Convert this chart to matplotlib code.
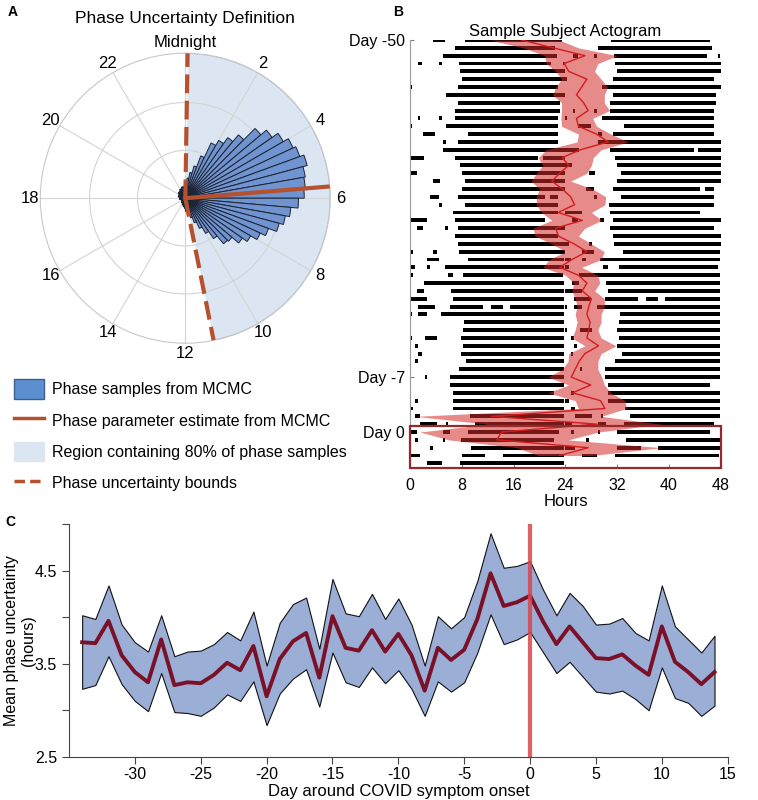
import numpy as np
import matplotlib
matplotlib.use("Agg")
import matplotlib.pyplot as plt
from matplotlib.patches import Patch, Rectangle
from matplotlib.lines import Line2D

plt.rcParams['font.family'] = ['Liberation Sans', 'DejaVu Sans']
plt.rcParams['axes.unicode_minus'] = False

# ---------------- panel A data: polar histogram of phase samples (5 deg bins, from midnight)
hist_r = [0.10, 0.14, 0.18, 0.23, 0.31, 0.42, 0.46, 0.51, 0.57, 0.68, 0.73, 0.78,
          0.82, 0.84, 0.87, 0.84, 0.83, 0.82, 0.78, 0.73, 0.70, 0.67, 0.61, 0.57,
          0.52, 0.48, 0.42, 0.41, 0.34, 0.28, 0.23, 0.18, 0.14, 0.12, 0.10, 0.09,
          0.07, 0.06, 0.06, 0.05, 0.05, 0.04, 0.04, 0.04, 0.04, 0.03, 0.03, 0.03,
          0.03, 0.03, 0.03, 0.04, 0.04, 0.04, 0.04, 0.04, 0.05, 0.05, 0.05, 0.05,
          0.05, 0.06, 0.06, 0.06, 0.06, 0.07, 0.07, 0.07, 0.08, 0.08, 0.08, 0.09]
phase_est = 5.69      # hours
bound_lo = 0.06       # hours
bound_hi = 11.25      # hours
clock_labels = ['Midnight', '2', '4', '6', '8', '10', '12', '14', '16', '18', '20', '22']
legend_labels = ['Phase samples from MCMC', 'Phase parameter estimate from MCMC',
                 'Region containing 80% of phase samples', 'Phase uncertainty bounds']

# ---------------- panel B data: activity per day (hours of day), days -50..5
act_days = list(range(-50, 6))
act_segments = [
    [(3.6, 5.4), (8.5, 23.5)],
    [(7.0, 22.4)],
    [(5.1, 22.7)],
    [(1.2, 1.9), (4.4, 4.9), (7.5, 21.8), (23.6, 23.9)],
    [(7.7, 24)],
    [(8.0, 24)],
    [(0, 0.3), (7.4, 22.9)],
    [(5.6, 24)],
    [(7.4, 23.2)],
    [(6.9, 23.2)],
    [(1.2, 1.5), (4.4, 4.9), (6.9, 22.9)],
    [(0, 0.3), (5.6, 22.9)],
    [(2.0, 3.9), (9.0, 22.9)],
    [(5.1, 5.6), (7.4, 22.9)],
    [(5.1, 24)],
    [(0, 2.1), (6.9, 19.8), (20.5, 24)],
    [(7.7, 24)],
    [(0, 1.0), (8.0, 24)],
    [(3.6, 4.6), (8.5, 24)],
    [(8.0, 24)],
    [(3.1, 4.4), (7.4, 20.8), (21.6, 22.9)],
    [(4.4, 4.9), (8.5, 22.9)],
    [(6.7, 22.9)],
    [(0, 2.6), (6.9, 20.8)],
    [(1.0, 2.0), (5.4, 5.9), (7.4, 24)],
    [(6.9, 22.9)],
    [(7.4, 24)],
    [(0, 0.5), (3.6, 4.1), (7.5, 24)],
    [(2.6, 4.4), (8.9, 23.8)],
    [(0, 0.8), (2.6, 3.1), (5.4, 23.8)],
    [(0, 0.5), (5.8, 6.6), (8.2, 23.6)],
    [(2.1, 23.8)],
    [(1.0, 2.1), (6.3, 23.8)],
    [(0, 2.6), (6.6, 23.8)],
    [(1.3, 3.9), (6.1, 11.2), (12.5, 14.3), (15.4, 23.8)],
    [(0, 0.3), (1.3, 2.6), (4.8, 23.8)],
    [(8.4, 23.8)],
    [(8.2, 23.8)],
    [(0, 0.3), (2.3, 4.1), (7.9, 23.8)],
    [(0.8, 1.3), (8.2, 23.8)],
    [(1.3, 1.8), (7.9, 23.8)],
    [(0.8, 1.2), (8.7, 23.8)],
    [(7.6, 23.8)],
    [(2.3, 2.6), (6.1, 23.8)],
    [(6.1, 23.8)],
    [(6.6, 22.3)],
    [(0.8, 1.3), (6.6, 23.8)],
    [(0, 0.5), (6.6, 23.8)],
    [(0.8, 1.5), (9.2, 23.8)],
    [(1.5, 4.1), (5.5, 5.8), (10.0, 23.8)],
    [(0, 1.0), (5.1, 6.2), (9.0, 23.0)],
    [(0.8, 1.3), (5.1, 5.4), (7.9, 22.3)],
    [(3.1, 3.6), (9.4, 23.8)],
    [(0, 1.5), (8.0, 11.6), (14.3, 23.8)],
    [(2.6, 4.9), (7.7, 23.7)],
    [],
]
act_rows = list(range(-50, 5))

# phase estimate per actogram row (hours on 0-48 axis) with uncertainty band
phase_rows = list(range(-50, 4))
phase_mid = [17.2, 22.1, 27.0, 23.8, 24.5, 27.3, 26.5, 25.7, 26.8, 27.5, 25.7, 26.0,
             28.8, 30.6, 26.3, 23.5, 24.5, 23.1, 21.9, 23.5, 24.8, 25.4, 22.9, 26.6,
             22.5, 22.9, 25.3, 27.3, 25.0, 23.1, 26.0, 27.3, 26.6, 28.0, 27.6, 27.3,
             27.8, 27.6, 27.3, 29.1, 27.0, 26.1, 25.5, 24.9, 27.9, 25.1, 29.4, 30.1,
             12.6, 28.9, 14.1, 13.4, 27.5, 23.1]
phase_lo = [12.3, 17.5, 20.8, 21.0, 22.5, 23.4, 22.5, 22.0, 23.4, 23.4, 23.3, 23.4,
            26.0, 25.8, 21.0, 19.8, 20.5, 19.5, 18.7, 20.0, 19.5, 19.5, 20.3, 21.9,
            19.0, 19.3, 21.9, 24.0, 21.5, 20.5, 24.0, 25.3, 25.0, 25.5, 25.8, 25.5,
            25.8, 25.5, 25.0, 27.0, 24.5, 24.4, 23.5, 21.3, 24.5, 21.3, 25.5, 26.0,
            0.8, 12.0, 1.5, 6.0, 16.5, 19.8]
phase_hi = [23.0, 26.0, 32.0, 29.0, 28.5, 29.5, 30.5, 30.0, 30.0, 30.8, 28.2, 28.8,
            31.0, 33.7, 29.5, 28.3, 28.0, 27.3, 24.8, 28.2, 30.2, 30.1, 28.0, 29.6,
            27.0, 26.0, 28.0, 30.0, 29.5, 26.5, 29.0, 29.3, 28.5, 30.0, 30.0, 29.5,
            29.5, 29.0, 29.5, 31.8, 29.5, 29.0, 29.0, 29.6, 30.0, 31.0, 33.2, 33.4,
            29.5, 38.8, 29.1, 24.4, 38.8, 28.0]

# ---------------- panel C data
days = list(range(-34, 15))
unc_mean = [3.73, 3.72, 3.96, 3.59, 3.41, 3.30, 3.76, 3.27, 3.30, 3.29, 3.38, 3.51,
            3.43, 3.69, 3.15, 3.55, 3.74, 3.83, 3.35, 4.01, 3.67, 3.64, 3.86, 3.63,
            3.82, 3.59, 3.21, 3.67, 3.54, 3.65, 3.98, 4.47, 4.12, 4.16, 4.23, 3.95,
            3.71, 3.90, 3.73, 3.56, 3.55, 3.60, 3.48, 3.38, 3.90, 3.52, 3.41, 3.28, 3.41]
unc_hi = [4.02, 3.98, 4.34, 3.92, 3.73, 3.63, 4.02, 3.58, 3.63, 3.64, 3.71, 3.84,
          3.75, 4.06, 3.48, 3.94, 4.14, 4.21, 3.66, 4.41, 4.04, 4.01, 4.25, 3.98,
          4.20, 3.92, 3.48, 4.01, 3.88, 4.00, 4.39, 4.90, 4.53, 4.55, 4.60, 4.29,
          4.02, 4.26, 4.12, 3.92, 3.93, 3.99, 3.83, 3.75, 4.34, 3.90, 3.76, 3.62, 3.80]
unc_lo = [3.23, 3.27, 3.58, 3.28, 3.10, 2.99, 3.40, 2.98, 2.97, 2.94, 3.03, 3.17,
          3.10, 3.31, 2.84, 3.18, 3.34, 3.44, 3.04, 3.62, 3.30, 3.25, 3.46, 3.29,
          3.43, 3.23, 2.94, 3.31, 3.20, 3.30, 3.62, 4.03, 3.71, 3.76, 3.84, 3.62,
          3.40, 3.52, 3.36, 3.20, 3.18, 3.21, 3.12, 3.00, 3.46, 3.13, 3.08, 2.94, 3.05]

brown = '#b5512e'

fig = plt.figure(figsize=(7.58, 8.0), dpi=100)

# ================= A
axA = fig.add_axes([0.053, 0.571, 0.383, 0.3625], projection='polar')
axA.set_theta_zero_location('N')
axA.set_theta_direction(-1)
nb = len(hist_r)
width = 2 * np.pi / nb
centers = (np.arange(nb) + 0.5) * width
th = np.linspace(bound_lo, bound_hi, 200) * np.pi / 12
axA.fill_between(th, 0, 1, color='#dce6f2', lw=0, zorder=0)
axA.plot(th, np.ones_like(th), color='#b3c3d8', lw=1.2, zorder=1)
axA.bar(centers, hist_r, width=width, bottom=0, color='#7094cf',
        edgecolor='#1c2333', lw=0.7, zorder=3)
axA.plot([phase_est * np.pi / 12] * 2, [0, 1.0], color=brown, lw=3, zorder=4)
for b in (bound_lo, bound_hi):
    axA.plot([b * np.pi / 12] * 2, [0, 1.0], color=brown, lw=3,
             ls=(0, (4.5, 1.8)), zorder=4)
axA.set_ylim(0, 1)
axA.set_rticks([0.33, 0.66])
axA.set_yticklabels([])
axA.set_thetagrids(np.arange(0, 360, 30), clock_labels, fontsize=12)
axA.tick_params(axis='x', pad=-3)
axA.grid(color='#d4d4d4', lw=0.8)
axA.spines['polar'].set_color('#c8c8c8')
axA.set_axisbelow(True)

fig.text(0.244, 0.977, 'Phase Uncertainty Definition', ha='center', va='center', fontsize=12.5)

handles = [Patch(facecolor='#5b8fd0', edgecolor='#3d5f8f'),
           Line2D([], [], color=brown, lw=2.5),
           Patch(facecolor='#dce6f2', edgecolor='#dce6f2'),
           Line2D([], [], color=brown, lw=2.5, ls=(0, (3, 1.5)))]
fig.legend(handles, legend_labels, loc='upper left', bbox_to_anchor=(0.018, 0.526),
           frameon=False, fontsize=11.5, handlelength=1.9, handleheight=1.5,
           handletextpad=0.5, labelspacing=0.74, borderpad=0, borderaxespad=0)

# ================= B
axB = fig.add_axes([0.541, 0.415, 0.41, 0.535])
for r in act_rows:
    i = act_days.index(r)
    segs = [(s, e - s) for s, e in act_segments[i]]
    segs += [(s + 24, e - s) for s, e in act_segments[i + 1]]
    if segs:
        axB.broken_barh(segs, (r - 0.25, 0.5), facecolor='black', lw=0, zorder=2)
axB.fill_betweenx(phase_rows, phase_lo, phase_hi, color='#d42a2a', alpha=0.55,
                  lw=0, zorder=3)
axB.plot(phase_mid, phase_rows, color='#d41c1c', lw=1, zorder=4)
axB.add_patch(Rectangle((0, -0.75), 48, 5.34, fill=False, edgecolor='#962a2a',
                        lw=1.6, zorder=5, clip_on=False))
axB.set_xlim(0, 48)
axB.set_ylim(4.59, -50)
axB.set_xticks(np.arange(0, 49, 8))
axB.set_yticks([-50, -7, 0])
axB.set_yticklabels(['Day -50', 'Day -7', 'Day 0'])
axB.tick_params(direction='in', labelsize=11.5, length=3, color='#808080')
axB.tick_params(axis='x', pad=7)
axB.spines[['top', 'right']].set_visible(False)
axB.spines['left'].set_color('#9a9a9a')
axB.spines['bottom'].set_color('#9a9a9a')
axB.set_xlabel('Hours', fontsize=12, labelpad=1)
axB.set_title('Sample Subject Actogram', fontsize=12, pad=3)

# ================= C
axC = fig.add_axes([0.091, 0.054, 0.869, 0.291])
axC.fill_between(days, unc_lo, unc_hi, facecolor='#9aaed6', edgecolor='#111111',
                 lw=0.8, zorder=2)
axC.plot(days, unc_mean, color='#7a1128', lw=2.8, zorder=3)
axC.axvline(0, color='#d9464e', lw=3, alpha=0.85, zorder=4)
axC.set_xlim(-35, 15)
axC.set_ylim(2.5, 5.0)
axC.set_xticks(np.arange(-30, 16, 5))
axC.set_yticks([2.5, 3.0, 3.5, 4.0, 4.5, 5.0])
axC.set_yticklabels(['2.5', '', '3.5', '', '4.5', ''])
axC.tick_params(direction='out', labelsize=11.5, length=5, color='#444444')
axC.tick_params(axis='x', pad=2)
axC.spines[['top', 'right']].set_visible(False)
axC.spines['left'].set_color('#444444')
axC.spines['bottom'].set_color('#444444')
axC.set_xlabel('Day around COVID symptom onset', fontsize=12, labelpad=2)
axC.set_ylabel('Mean phase uncertainty\n(hours)', fontsize=11.5, labelpad=-1)

fig.text(0.01, 0.985, 'A', fontsize=10, weight='bold', va='center')
fig.text(0.518, 0.985, 'B', fontsize=10, weight='bold', va='center')
fig.text(0.007, 0.347, 'C', fontsize=10, weight='bold', va='center')

fig.savefig('out.png', dpi=100)
